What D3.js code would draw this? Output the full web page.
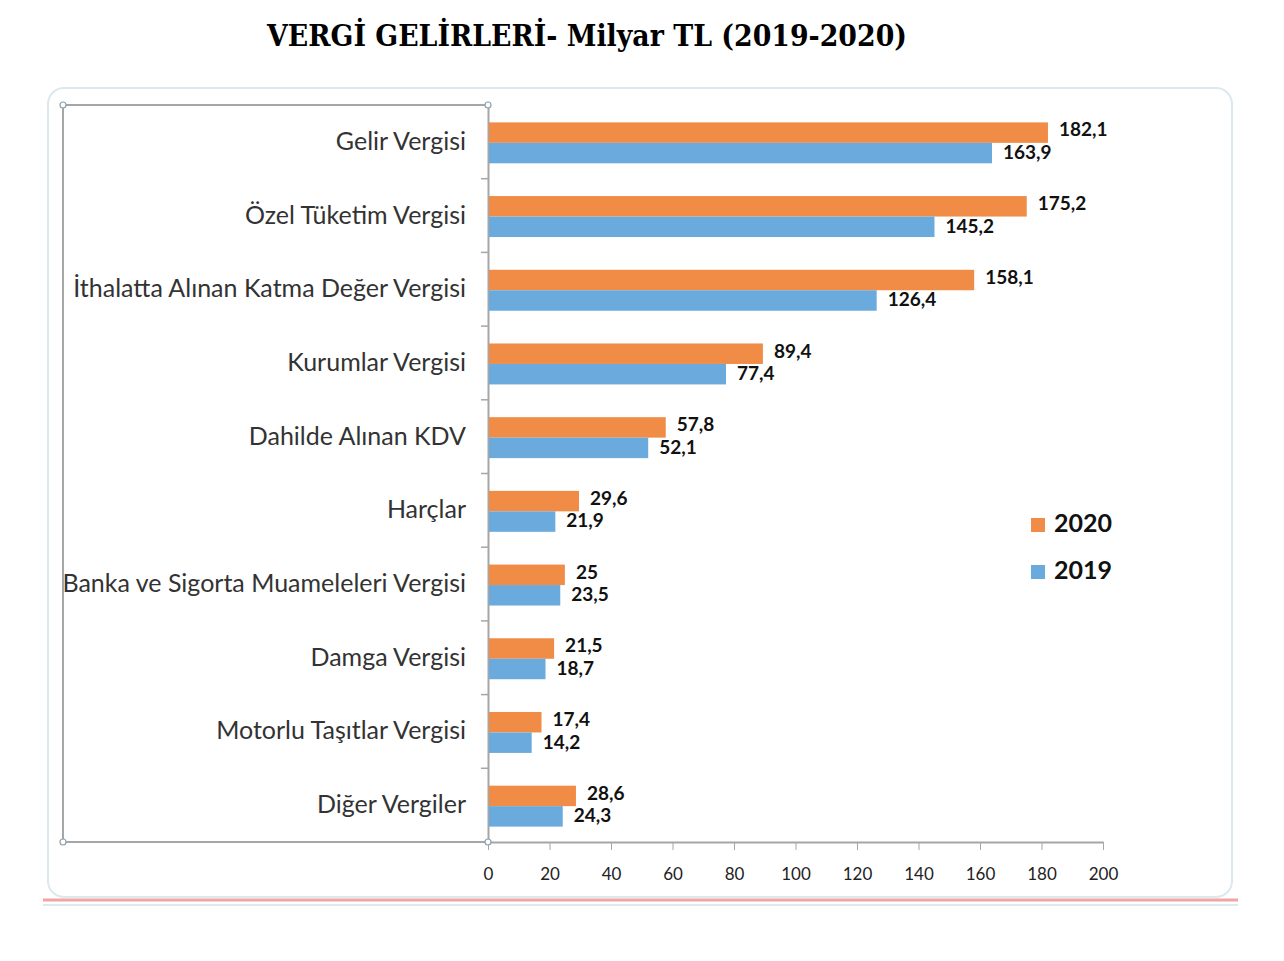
<!DOCTYPE html>
<html>
<head>
<meta charset="utf-8">
<script src="https://cdn.jsdelivr.net/npm/d3@7"></script>
<style>
  body { margin: 0; background: #fff; }
  svg { display: block; }
</style>
</head>
<body>
<svg id="chart" width="1284" height="961"></svg>
<script>
// tax revenue, billion TL
const categories = ["Gelir Vergisi", "Özel Tüketim Vergisi", "İthalatta Alınan Katma Değer Vergisi",
  "Kurumlar Vergisi", "Dahilde Alınan KDV", "Harçlar", "Banka ve Sigorta Muameleleri Vergisi",
  "Damga Vergisi", "Motorlu Taşıtlar Vergisi", "Diğer Vergiler"];
const values2020 = [182.1, 175.2, 158.1, 89.4, 57.8, 29.6, 25, 21.5, 17.4, 28.6];
const values2019 = [163.9, 145.2, 126.4, 77.4, 52.1, 21.9, 23.5, 18.7, 14.2, 24.3];
const years = ["2020", "2019"];
const xTicks = [0, 20, 40, 60, 80, 100, 120, 140, 160, 180, 200];

const colors = { "2020": "#f08c46", "2019": "#6aaadc" };
const font = "Lato, 'Open Sans', sans-serif";
const fmt = v => String(v).replace(".", ",");

const svg = d3.select("#chart");

// outer frame
svg.append("rect")
  .attr("x", 48).attr("y", 88).attr("width", 1184).attr("height", 809)
  .attr("rx", 16).attr("fill", "#fff").attr("stroke", "#dbe9ef").attr("stroke-width", 2);
svg.append("line").attr("x1", 43).attr("x2", 1238).attr("y1", 900).attr("y2", 900)
  .attr("stroke", "#f2a3a3").attr("stroke-width", 3);
svg.append("line").attr("x1", 43).attr("x2", 1238).attr("y1", 905).attr("y2", 905)
  .attr("stroke", "#dcebf0").attr("stroke-width", 2);

// title
svg.append("text")
  .attr("x", 587).attr("y", 46).attr("text-anchor", "middle")
  .attr("font-family", "'DejaVu Serif', 'Liberation Serif', serif")
  .attr("font-weight", "bold").attr("font-size", 29).attr("fill", "#000")
  .attr("textLength", 640).attr("lengthAdjust", "spacingAndGlyphs")
  .text("VERGİ GELİRLERİ- Milyar TL (2019-2020)");

const x = d3.scaleLinear().domain([0, 200]).range([488, 1103]);
const y = d3.scaleBand().domain(categories).range([105, 842]);
const y1 = d3.scaleBand().domain(years).range([0, y.bandwidth()]).paddingOuter(0.8);

const gray = "#a6a6a6";

// plot area lines
svg.append("line").attr("x1", 63).attr("x2", 488).attr("y1", 105).attr("y2", 105).attr("stroke", gray).attr("stroke-width", 2);
svg.append("line").attr("x1", 63).attr("x2", 63).attr("y1", 105).attr("y2", 842).attr("stroke", gray).attr("stroke-width", 2);

// x axis
const xAxis = svg.append("g")
  .attr("transform", "translate(0,842)")
  .call(d3.axisBottom(x).tickValues(xTicks).tickSize(8).tickPadding(18).tickSizeOuter(0));
xAxis.select(".domain").attr("stroke", gray).attr("stroke-width", 2);
xAxis.selectAll(".tick line").attr("stroke", gray);
xAxis.selectAll(".tick text").attr("font-family", font).attr("font-size", 17).attr("fill", "#222");
svg.append("line").attr("x1", 63).attr("x2", 488).attr("y1", 842).attr("y2", 842).attr("stroke", gray).attr("stroke-width", 2);

// y axis
const yAxis = svg.append("g")
  .attr("transform", "translate(488,0)")
  .call(d3.axisLeft(y).tickSize(0).tickPadding(22).tickSizeOuter(0));
yAxis.select(".domain").attr("stroke", gray).attr("stroke-width", 2);
yAxis.selectAll(".tick text").attr("font-family", font).attr("font-size", 25).attr("fill", "#333");
// category separator ticks
svg.append("g").selectAll("line")
  .data(categories.slice(1))
  .join("line")
  .attr("x1", 481).attr("x2", 488)
  .attr("y1", d => y(d)).attr("y2", d => y(d))
  .attr("stroke", gray).attr("stroke-width", 1.5);

// handles
svg.append("g").selectAll("circle")
  .data([[63, 105], [488, 105], [63, 842], [488, 842]])
  .join("circle")
  .attr("cx", d => d[0]).attr("cy", d => d[1]).attr("r", 3)
  .attr("fill", "#fff").attr("stroke", "#8ca0b0").attr("stroke-width", 1.2);

// bars
const rows = categories.map((c, i) => ({ cat: c, vals: [
  { year: "2020", v: values2020[i] }, { year: "2019", v: values2019[i] }] }));

const groups = svg.append("g").selectAll("g")
  .data(rows)
  .join("g")
  .attr("transform", d => `translate(0,${y(d.cat)})`);

groups.selectAll("rect")
  .data(d => d.vals)
  .join("rect")
  .attr("x", x(0) + 1)
  .attr("y", d => y1(d.year) + 1)
  .attr("width", d => x(d.v) - x(0) - 1)
  .attr("height", y1.bandwidth())
  .attr("fill", d => colors[d.year]);

groups.selectAll("text")
  .data(d => d.vals)
  .join("text")
  .attr("x", d => x(d.v) + 11)
  .attr("y", d => y1(d.year) + y1.bandwidth() / 2 + (d.year === "2020" ? 0 : 2))
  .attr("dominant-baseline", "middle")
  .attr("font-family", font).attr("font-weight", "bold").attr("font-size", 19)
  .attr("fill", "#111")
  .text(d => fmt(d.v));

// legend
const legend = svg.append("g").selectAll("g")
  .data(years)
  .join("g")
  .attr("transform", (d, i) => `translate(1031,${518 + i * 47})`);
legend.append("rect").attr("width", 14).attr("height", 14).attr("fill", d => colors[d]);
legend.append("text")
  .attr("x", 23).attr("y", 8).attr("dominant-baseline", "middle")
  .attr("font-family", font).attr("font-weight", "bold").attr("font-size", 25).attr("fill", "#111")
  .text(d => d);
</script>
</body>
</html>
